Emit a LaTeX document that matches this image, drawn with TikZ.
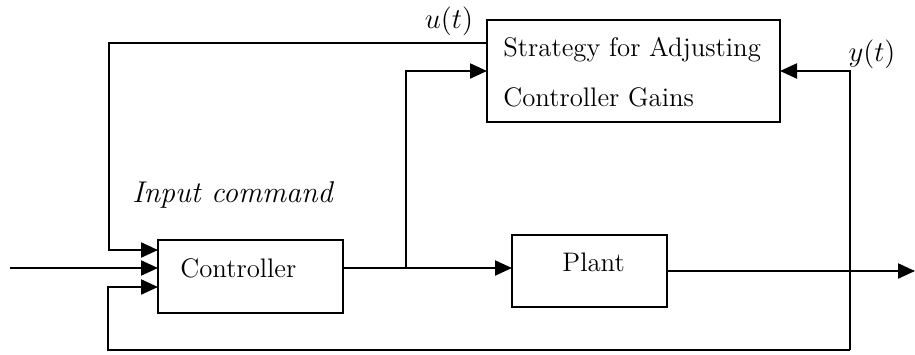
\documentclass[tikz,border=0pt]{standalone}
\usetikzlibrary{arrows.meta,calc}
\begin{document}
\begin{tikzpicture}[x=0.5pt,y=-0.5pt,
  blk/.style={draw, line width=0.85pt, inner sep=0pt, outer sep=0pt, anchor=north west},
  wire/.style={line width=1.1pt},
  feed/.style={wire, -{Triangle[length=8.5pt,width=7.5pt]}},
  txt/.style={font=\fontsize{13.4}{16}\selectfont, inner sep=0pt, anchor=base west},
  lbl/.style={font=\fontsize{15}{18}\selectfont, inner sep=0pt}]
\useasboundingbox (0,0) rectangle (915,354);

% blocks
\node[blk, minimum width=146.5pt, minimum height=51pt] (strat) at (487,20) {};
\node[blk, minimum width=92.5pt, minimum height=36.5pt] (ctrl) at (158,240) {};
\node[blk, minimum width=77.5pt, minimum height=36pt] (plant) at (512,235) {};

% block texts
\node[txt] (stxt1) at (503,56) {Strategy for Adjusting};
\node[txt] (stxt2) at (503,106) {Controller Gains};
\node[txt] (ctxt) at (180,277) {Controller};
\node[txt] (ptxt) at (562,271) {Plant};

% signal labels
\node[lbl] (ulbl) at (449,21) {$u(t)$};
\node[lbl] (ylbl) at (872,54) {$y(t)$};
\node[font=\fontsize{15}{18}\selectfont\itshape, inner sep=0pt, anchor=base west] (cmd) at (132,202) {Input command};

% connection points
\coordinate (in) at (10,268);
\coordinate (br) at (406,268);
\coordinate (tap) at (850,350);
\coordinate (out) at (915,271);

% control signal back to the controller
\draw[feed] ($(strat.north west)+(0,23)$) -| (109,250) -- ($(ctrl.north west)+(0,10)$);
% reference input
\draw[feed] (in) -- ($(ctrl.north west)+(0,28)$);
% controller output to plant
\draw[feed] ($(ctrl.north east)+(0,28)$) -- ($(plant.north west)+(0,33)$);
% branch to adaptation block
\draw[feed] (br) |- (strat.west);
% plant output
\draw[feed] (plant.east) -- (out);
% measured output to adaptation block
\draw[feed] (tap) |- (strat.east);
% output feedback to controller
\draw[feed] (tap) -| (108,287) -- ($(ctrl.north west)+(0,47)$);
\end{tikzpicture}
\end{document}
